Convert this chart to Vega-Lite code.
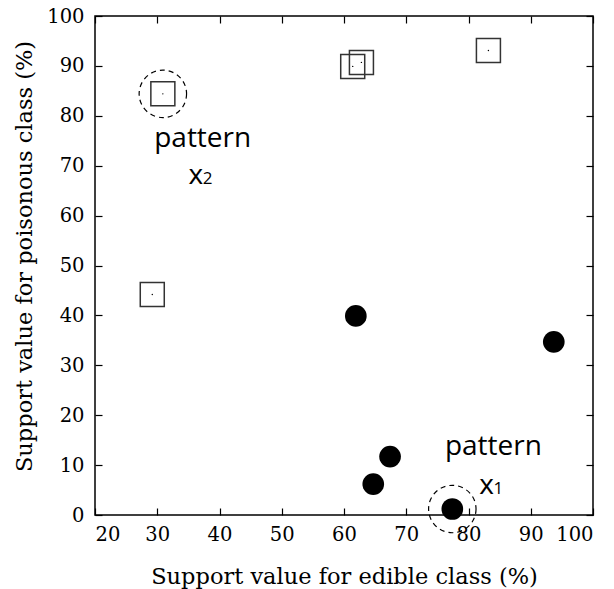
{
  "$schema": "https://vega.github.io/schema/vega-lite/v6.json",
  "width": 498,
  "height": 499,
  "autosize": "none",
  "padding": {"left": 95, "top": 16, "right": 21, "bottom": 74},
  "background": "white",
  "config": {
    "view": {"stroke": "black", "strokeWidth": 1.5},
    "axis": {
      "grid": false,
      "domain": false,
      "tickColor": "black",
      "tickWidth": 1.2,
      "tickSize": -7,
      "labelColor": "black",
      "labelFont": "DejaVu Serif",
      "labelFontSize": 19.5,
      "titleColor": "black",
      "titleFont": "DejaVu Serif",
      "titleFontSize": 22.5,
      "titleFontWeight": "normal"
    }
  },
  "datasets": {
    "points": [
      {"edible": 29.2, "poisonous": 44.2, "cls": "poisonous"},
      {"edible": 30.9, "poisonous": 84.4, "cls": "poisonous"},
      {"edible": 61.4, "poisonous": 89.9, "cls": "poisonous"},
      {"edible": 62.8, "poisonous": 90.7, "cls": "poisonous"},
      {"edible": 83.2, "poisonous": 93.1, "cls": "poisonous"},
      {"edible": 61.9, "poisonous": 39.9, "cls": "edible"},
      {"edible": 93.7, "poisonous": 34.7, "cls": "edible"},
      {"edible": 67.4, "poisonous": 11.7, "cls": "edible"},
      {"edible": 64.7, "poisonous": 6.2, "cls": "edible"},
      {"edible": 77.4, "poisonous": 1.2, "cls": "edible"}
    ],
    "highlight": [
      {"edible": 30.9, "poisonous": 84.4, "pattern": "x2"},
      {"edible": 77.4, "poisonous": 1.2, "pattern": "x1"}
    ],
    "labels": [
      {"edible": 37.3, "poisonous": 73.7, "text": "pattern", "part": "word"},
      {"edible": 36.2, "poisonous": 66.3, "text": "x", "part": "var"},
      {"edible": 38.1, "poisonous": 66.3, "text": "2", "part": "sub"},
      {"edible": 84.0, "poisonous": 12.0, "text": "pattern", "part": "word"},
      {"edible": 82.9, "poisonous": 4.2, "text": "x", "part": "var"},
      {"edible": 84.8, "poisonous": 4.2, "text": "1", "part": "sub"}
    ]
  },
  "resolve": {"axis": {"x": "independent", "y": "independent"}},
  "layer": [
    {
      "data": {"name": "points"},
      "transform": [{"filter": "datum.cls === 'poisonous'"}],
      "mark": {"type": "point", "shape": "square", "size": 576, "filled": false, "stroke": "#333333", "strokeWidth": 1.5, "opacity": 1},
      "encoding": {
        "x": {"field": "edible", "type": "quantitative", "scale": {"domain": [20, 100], "nice": false, "zero": false},
          "axis": {"orient": "bottom", "values": [20, 30, 40, 50, 60, 70, 80, 90, 100], "title": "Support value for edible class (%)", "labelPadding": 17, "titleY": 68, "titleBaseline": "alphabetic"}},
        "y": {"field": "poisonous", "type": "quantitative", "scale": {"domain": [0, 100], "nice": false},
          "axis": {"orient": "left", "values": [0, 10, 20, 30, 40, 50, 60, 70, 80, 90, 100], "title": "Support value for poisonous class (%)", "labelPadding": 18, "titleX": -64, "titleY": 240, "titleAngle": -90, "titleBaseline": "alphabetic"}}
      }
    },
    {
      "data": {"name": "points"},
      "transform": [{"filter": "datum.cls === 'poisonous'"}],
      "mark": {"type": "circle", "size": 2, "color": "black", "opacity": 1},
      "encoding": {
        "x": {"field": "edible", "type": "quantitative", "axis": {"orient": "top", "values": [20, 30, 40, 50, 60, 70, 80, 90, 100], "labels": false, "title": null}},
        "y": {"field": "poisonous", "type": "quantitative", "axis": {"orient": "right", "values": [0, 10, 20, 30, 40, 50, 60, 70, 80, 90, 100], "labels": false, "title": null}}
      }
    },
    {
      "data": {"name": "points"},
      "transform": [{"filter": "datum.cls === 'edible'"}],
      "mark": {"type": "circle", "size": 470, "color": "black", "opacity": 1},
      "encoding": {
        "x": {"field": "edible", "type": "quantitative", "axis": null},
        "y": {"field": "poisonous", "type": "quantitative", "axis": null}
      }
    },
    {
      "data": {"name": "highlight"},
      "mark": {"type": "point", "shape": "circle", "size": 2250, "filled": false, "stroke": "black", "strokeWidth": 1.2, "strokeDash": [5, 4], "opacity": 1},
      "encoding": {
        "x": {"field": "edible", "type": "quantitative", "axis": null},
        "y": {"field": "poisonous", "type": "quantitative", "axis": null}
      }
    },
    {
      "data": {"name": "labels"},
      "transform": [{"filter": "datum.part === 'word'"}],
      "mark": {"type": "text", "font": "Open Sans", "fontSize": 28, "align": "center", "baseline": "alphabetic", "color": "black"},
      "encoding": {
        "x": {"field": "edible", "type": "quantitative", "axis": null},
        "y": {"field": "poisonous", "type": "quantitative", "axis": null},
        "text": {"field": "text"}
      }
    },
    {
      "data": {"name": "labels"},
      "transform": [{"filter": "datum.part === 'var'"}],
      "mark": {"type": "text", "font": "Open Sans", "fontSize": 28, "align": "center", "baseline": "alphabetic", "color": "black"},
      "encoding": {
        "x": {"field": "edible", "type": "quantitative", "axis": null},
        "y": {"field": "poisonous", "type": "quantitative", "axis": null},
        "text": {"field": "text"}
      }
    },
    {
      "data": {"name": "labels"},
      "transform": [{"filter": "datum.part === 'sub'"}],
      "mark": {"type": "text", "font": "Open Sans", "fontSize": 17, "align": "center", "baseline": "alphabetic", "color": "black"},
      "encoding": {
        "x": {"field": "edible", "type": "quantitative", "axis": null},
        "y": {"field": "poisonous", "type": "quantitative", "axis": null},
        "text": {"field": "text"}
      }
    }
  ]
}
